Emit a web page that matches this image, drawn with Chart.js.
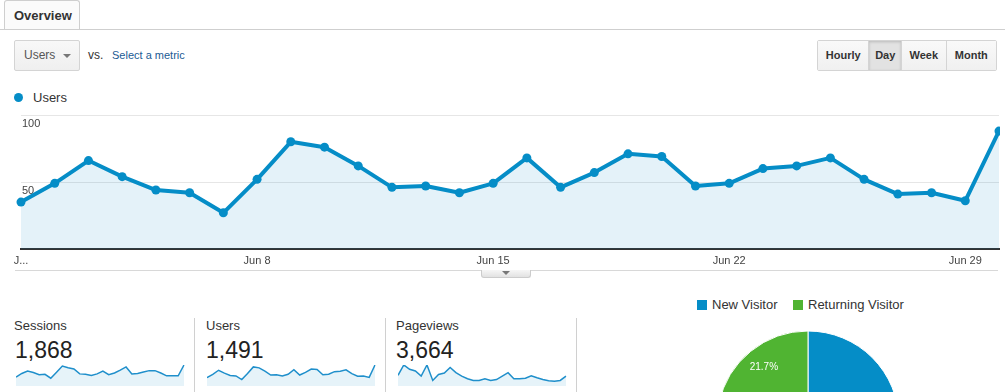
<!DOCTYPE html>
<html>
<head>
<meta charset="utf-8">
<script src="https://cdn.jsdelivr.net/npm/chart.js@4.4.1/dist/chart.umd.min.js"></script>
<style>
  html, body { margin: 0; padding: 0; }
  body { width: 1005px; height: 392px; overflow: hidden; position: relative; background: #fff;
         font-family: "Liberation Sans", Arial, sans-serif; color: #333; }
  .abs { position: absolute; }
  #topline { left: 0; top: 29px; width: 1005px; height: 1px; background: #cfcfcf; }
  #tab { left: 4px; top: 0; width: 76px; height: 29px; border: 1px solid #cfcfcf; border-bottom: none;
         border-radius: 3px 3px 0 0; background: #fbfbfb; font-weight: bold; font-size: 13px;
         line-height: 30px; padding-left: 9px; box-sizing: border-box; color: #333; }
  #dropdown { left: 14px; top: 40px; width: 66px; height: 31px; box-sizing: border-box; border: 1px solid #d4d4d4;
              border-radius: 2px; background: linear-gradient(#f8f8f8, #efefef); font-size: 12px; color: #555;
              line-height: 29px; padding-left: 9px; }
  #dropdown .tri { position: absolute; left: 48px; top: 13px; width: 0; height: 0;
                   border-left: 4px solid transparent; border-right: 4px solid transparent; border-top: 4px solid #777; }
  #vs { left: 88px; top: 48px; font-size: 12px; color: #333; }
  #sel { left: 112px; top: 49px; font-size: 11px; color: #1b5b94; }
  #btns { left: 817px; top: 40px; height: 31px; display: flex; border: 1px solid #d4d4d4; border-radius: 2px;
          box-sizing: border-box; width: 180px; }
  #btns div { font-size: 11px; font-weight: bold; color: #333; line-height: 29px; text-align: center;
              background: linear-gradient(#f9f9f9, #f0f0f0); border-left: 1px solid #d4d4d4; box-sizing: border-box; }
  #btns div:first-child { border-left: none; }
  #btns div.active { background: #e2e2e2; box-shadow: inset 0 1px 3px rgba(0,0,0,0.18); }
  #legdot { left: 14px; top: 93px; width: 9px; height: 9px; border-radius: 50%; background: #058dc7; }
  #legtxt { left: 33px; top: 90px; font-size: 13px; color: #333; }
  #axisline { left: 15px; top: 270px; width: 983px; height: 1px; background: #d8d8d8; }
  #handle { left: 481px; top: 270px; width: 50px; height: 8px; box-sizing: border-box; border: 1px solid #ccc; border-top: none;
            border-radius: 0 0 3px 3px; background: linear-gradient(#f6f6f6, #e2e2e2); }
  #handle .tri { position: absolute; left: 20px; top: 1px; width: 0; height: 0;
                 border-left: 4px solid transparent; border-right: 4px solid transparent; border-top: 4px solid #777; }
  .sep { top: 318px; width: 1px; height: 74px; background: #d0d0d0; }
  .mlabel { font-size: 13px; color: #333; }
  .mval { font-size: 23px; color: #222; }
  .pleg { top: 300px; width: 10px; height: 10px; }
  .plegt { top: 297px; font-size: 13px; color: #333; }
</style>
</head>
<body>
<div id="topline" class="abs"></div>
<div id="tab" class="abs">Overview</div>
<div id="dropdown" class="abs">Users<div class="tri"></div></div>
<div id="vs" class="abs">vs.</div>
<div id="sel" class="abs">Select a metric</div>
<div id="btns" class="abs">
  <div style="width:51px">Hourly</div>
  <div class="active" style="width:33px">Day</div>
  <div style="width:45px">Week</div>
  <div style="width:51px">Month</div>
</div>
<div id="legdot" class="abs"></div>
<div id="legtxt" class="abs">Users</div>

<div class="abs" style="left:0;top:100px;width:1005px;height:170px;"><canvas id="main"></canvas></div>
<div id="axisline" class="abs"></div>
<div id="handle" class="abs"><div class="tri"></div></div>

<div class="abs mlabel" style="left:14px;top:318px;">Sessions</div>
<div class="abs mval" style="left:15px;top:337px;">1,868</div>
<div class="abs" style="left:16px;top:361px;width:169px;height:25px;"><canvas id="sp1"></canvas></div>
<div class="abs sep" style="left:194px;"></div>
<div class="abs mlabel" style="left:206px;top:318px;">Users</div>
<div class="abs mval" style="left:206px;top:337px;">1,491</div>
<div class="abs" style="left:207px;top:361px;width:169px;height:25px;"><canvas id="sp2"></canvas></div>
<div class="abs sep" style="left:385px;"></div>
<div class="abs mlabel" style="left:396px;top:318px;">Pageviews</div>
<div class="abs mval" style="left:396px;top:337px;">3,664</div>
<div class="abs" style="left:398px;top:361px;width:169px;height:25px;"><canvas id="sp3"></canvas></div>
<div class="abs sep" style="left:576px;"></div>

<div class="abs pleg" style="left:697px;background:#058dc7;"></div>
<div class="abs plegt" style="left:712px;">New Visitor</div>
<div class="abs pleg" style="left:793px;background:#50b432;"></div>
<div class="abs plegt" style="left:808px;">Returning Visitor</div>
<div class="abs" style="left:708px;top:322px;width:200px;height:200px;"><canvas id="pie"></canvas></div>

<script>
const days = ["Jun 1","Jun 2","Jun 3","Jun 4","Jun 5","Jun 6","Jun 7","Jun 8","Jun 9","Jun 10",
  "Jun 11","Jun 12","Jun 13","Jun 14","Jun 15","Jun 16","Jun 17","Jun 18","Jun 19","Jun 20",
  "Jun 21","Jun 22","Jun 23","Jun 24","Jun 25","Jun 26","Jun 27","Jun 28","Jun 29","Jun 30"];
const users = [35,49,66,54,44,42,27,52,80,76,62,46,47,42,49,68,46,57,71,69,47,49,60,62,68,52,41,42,36,88];
const sessions = [41,58,69,62,52,54,36,64,92,84,79,56,54,49,56,69,52,60,73,88,56,58,65,71,71,60,47,47,47,97];
const pageviews = [131,257,205,184,121,257,68,142,158,226,163,121,89,68,68,89,68,79,121,163,89,89,95,126,100,79,63,58,68,121];
const xTickIndex = [0,7,14,21,28];
const xTickText = ["J...","Jun 8","Jun 15","Jun 22","Jun 29"];
const yTicks = [50,100];
const pieLabels = ["New Visitor","Returning Visitor"];
const piePct = [78.3,21.7];

const BLUE = '#058dc7', GREEN = '#50b432';
Chart.defaults.font.family = '"Liberation Sans", Arial, sans-serif';
Chart.defaults.animation = false;

new Chart(document.getElementById('main'), {
  type: 'line',
  data: { labels: days, datasets: [{
    data: users, borderColor: BLUE, borderWidth: 4, backgroundColor: 'rgba(5,141,199,0.11)',
    fill: 'origin', tension: 0, pointRadius: 4.5, pointBackgroundColor: BLUE, pointBorderWidth: 0,
    borderJoinStyle: 'round', clip: { left: 6, top: 6, right: 1, bottom: 6 }
  }]},
  options: {
    responsive: true, maintainAspectRatio: false,
    layout: { padding: { left: 21, right: 6, top: 15, bottom: 3 } },
    plugins: { legend: { display: false }, tooltip: { enabled: false } },
    scales: {
      x: {
        grid: { display: true, color: 'transparent', drawTicks: false },
        border: { display: true, color: '#333', width: 2 },
        afterFit: s => { s.height = 18; },
        ticks: { autoSkip: false, maxRotation: 0, padding: 5, color: '#444', font: { size: 11 },
          callback: (v, i) => { const k = xTickIndex.indexOf(i); return k >= 0 ? xTickText[k] : ''; } }
      },
      y: {
        min: 0, max: yTicks[yTicks.length - 1],
        afterFit: s => { s.width = 0; },
        border: { display: false },
        grid: { drawTicks: false, color: c => (c.tick && c.tick.value === 0) ? 'rgba(0,0,0,0)' : '#e6e6e6' },
        ticks: { stepSize: yTicks[0], mirror: true, padding: 1, labelOffset: 9, color: '#444', font: { size: 11 },
          callback: v => yTicks.includes(v) ? String(v) : '' }
      }
    }
  }
});

function spark(id, data) {
  new Chart(document.getElementById(id), {
    type: 'line',
    data: { labels: days, datasets: [{ data, borderColor: '#1f8fcb', borderWidth: 1.5,
      backgroundColor: 'rgba(5,141,199,0.1)', fill: 'origin', pointRadius: 0, tension: 0 }] },
    options: {
      responsive: true, maintainAspectRatio: false,
      layout: { padding: { top: 4, bottom: 0, left: 0, right: 1 } },
      plugins: { legend: { display: false }, tooltip: { enabled: false } },
      scales: { x: { display: false }, y: { display: false, min: 0, max: Math.max(...data) } }
    }
  });
}
spark('sp1', sessions);
spark('sp2', users);
spark('sp3', pageviews);

const pieLabelPlugin = {
  id: 'pieLabels',
  afterDatasetsDraw(chart) {
    const ctx = chart.ctx;
    const meta = chart.getDatasetMeta(0);
    ctx.save();
    ctx.fillStyle = '#fff';
    ctx.font = '10px "Liberation Sans", Arial, sans-serif';
    ctx.textAlign = 'center'; ctx.textBaseline = 'middle';
    meta.data.forEach((arc, i) => {
      const mid = (arc.startAngle + arc.endAngle) / 2;
      const r = arc.outerRadius * 0.77;
      ctx.fillText(piePct[i].toFixed(1) + '%', arc.x + Math.cos(mid) * r, arc.y + Math.sin(mid) * r);
    });
    ctx.restore();
  }
};
new Chart(document.getElementById('pie'), {
  type: 'pie',
  data: { labels: pieLabels, datasets: [{ data: piePct, backgroundColor: [BLUE, GREEN],
    borderColor: '#ffffff', borderWidth: 1 }] },
  options: {
    responsive: true, maintainAspectRatio: false, radius: 91,
    plugins: { legend: { display: false }, tooltip: { enabled: false } }
  },
  plugins: [pieLabelPlugin]
});
</script>
</body>
</html>
